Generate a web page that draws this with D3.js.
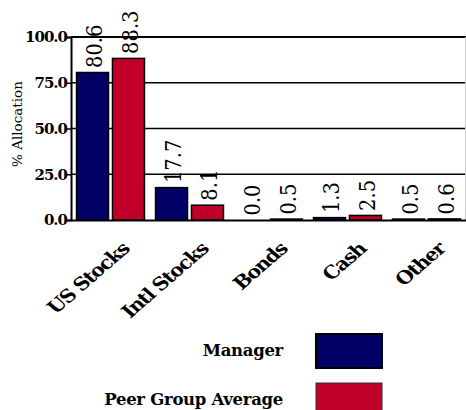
<!DOCTYPE html>
<html><head><meta charset="utf-8">
<script src="https://cdn.jsdelivr.net/npm/d3@7/dist/d3.min.js"></script>
<style>body{margin:0;background:#fff}svg{display:block}
text{font-family:"DejaVu Serif","Liberation Serif",serif}
</style>
</head><body>
<svg id="c" width="466" height="410"></svg>
<script>
const categories = ["US Stocks", "Intl Stocks", "Bonds", "Cash", "Other"];
const seriesNames = ["Manager", "Peer Group Average"];
const managerValues = [80.6, 17.7, 0.0, 1.3, 0.5];
const peerValues = [88.3, 8.1, 0.5, 2.5, 0.6];
const yTicks = [0, 25, 50, 75, 100];
const colors = ["#000066", "#c00028"];

const svg = d3.select("#c");
const SX = 1.15;
const x0 = d3.scaleBand().domain(categories).range([71, 466]).paddingInner(0.14).paddingOuter(0.07);
const x1 = d3.scaleBand().domain(seriesNames).range([0, x0.bandwidth()]).paddingInner(0.11);
const y = d3.scaleLinear().domain([0, 100]).range([220, 37]);

// gridlines
svg.append("g").selectAll("line").data(yTicks.filter(d => d > 0)).join("line")
  .attr("x1", 71).attr("x2", 466).attr("y1", d => y(d)).attr("y2", d => y(d))
  .attr("stroke", "#000").attr("stroke-width", d => d === 100 ? 2 : 1.6);
// right border
svg.append("line").attr("x1", 465.5).attr("x2", 465.5).attr("y1", y(100)).attr("y2", y(0))
  .attr("stroke", "#ccc").attr("stroke-width", 1);

const rows = categories.map((c, i) => ({cat: c, vals: [managerValues[i], peerValues[i]]}));

// bars
const g = svg.append("g").selectAll("g").data(rows).join("g")
  .attr("transform", d => `translate(${x0(d.cat)},0)`);
g.selectAll("rect").data(d => d.vals.map((v, j) => ({v, s: seriesNames[j], j}))).join("rect")
  .attr("x", d => x1(d.s)).attr("width", x1.bandwidth())
  .attr("y", d => y(d.v)).attr("height", d => y(0) - y(d.v))
  .attr("fill", d => colors[d.j]).attr("stroke", "#000").attr("stroke-width", 1.5);
// value labels
g.selectAll("text").data(d => d.vals.map((v, j) => ({v, s: seriesNames[j], j}))).join("text")
  .attr("transform", d => `translate(${x1(d.s) + x1.bandwidth() / 2 + 1},${y(d.v) - 4.5}) scale(${SX},1) rotate(-90)`)
  .attr("dy", "0.36em")
  .attr("font-size", 19.5)
  .attr("fill", "#000").text(d => d.v.toFixed(1));

// y axis
const yAxis = d3.axisLeft(y).tickValues(yTicks).tickSize(4).tickFormat(() => "");
const ya = svg.append("g").attr("transform", "translate(71,0)").call(yAxis);
ya.select(".domain").attr("stroke", "#000").attr("stroke-width", 2);
ya.selectAll(".tick line").attr("stroke", "#000").attr("stroke-width", 1.5);
svg.append("g").selectAll("text").data(yTicks).join("text")
  .attr("transform", d => `translate(67,${y(d)})`)
  .attr("dy", "0.36em").attr("text-anchor", "end")
  .attr("font-weight", "bold")
  .attr("font-size", 15).attr("letter-spacing", -1)
  .text(d => d.toFixed(1));

// x axis
const xAxis = d3.axisBottom(x0).tickSize(0).tickFormat(() => "");
const xa = svg.append("g").attr("transform", "translate(0,220)").call(xAxis);
xa.select(".domain").attr("stroke", "#000").attr("stroke-width", 2);
svg.append("g").selectAll("text").data(categories).join("text")
  .attr("transform", d => `translate(${x0(d) + x0.bandwidth() / 2 + 20},250) scale(${SX},1) rotate(-45)`)
  .attr("text-anchor", "end")
  .attr("font-weight", "bold")
  .attr("font-size", 18).attr("letter-spacing", -1.1)
  .text(d => d);

// y title
svg.append("text").attr("transform", `translate(17,124) rotate(-90)`)
  .attr("text-anchor", "middle").attr("dy", "0.36em")
  .attr("font-size", 13.5)
  .text("% Allocation");

// legend
const lg = svg.append("g").selectAll("g").data(seriesNames).join("g")
  .attr("transform", (d, i) => `translate(0,${i * 49})`);
lg.append("rect").attr("x", 316).attr("y", 334).attr("width", 66).attr("height", 34)
  .attr("fill", (d, i) => colors[i]).attr("stroke", (d, i) => i === 0 ? "#000" : "#333")
  .attr("stroke-width", (d, i) => i === 0 ? 2 : 1);
lg.append("text").attr("transform", `translate(283,356)`)
  .attr("text-anchor", "end")
  .attr("font-weight", "bold")
  .attr("font-size", 16.5).attr("letter-spacing", -0.3)
  .text(d => d);
</script>
</body></html>
